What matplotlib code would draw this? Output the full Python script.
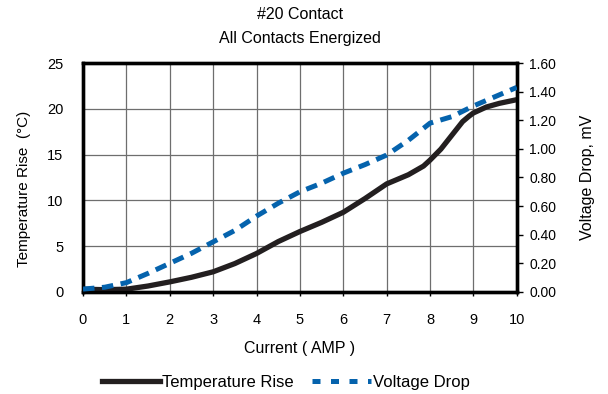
import numpy as np
import matplotlib
matplotlib.use("Agg")
import matplotlib.pyplot as plt

plt.rcParams['font.family'] = ['Liberation Sans', 'DejaVu Sans']

current = [0, 0.5, 1, 1.5, 2, 2.5, 3, 3.5, 4, 4.5, 5, 5.5, 6, 6.5, 7, 7.5, 7.85, 8,
           8.25, 8.5, 8.75, 8.9, 9, 9.3, 9.6, 10]
temp_rise = [0.3, 0.25, 0.3, 0.65, 1.1, 1.6, 2.2, 3.1, 4.2, 5.5, 6.6, 7.6, 8.7, 10.2, 11.8,
             12.8, 13.75, 14.4, 15.6, 17.1, 18.6, 19.2, 19.55, 20.2, 20.6, 21.0]
v_current = [0, 0.5, 1, 1.5, 2, 2.5, 3, 3.5, 4, 4.5, 5, 5.5, 6, 6.5, 7, 7.5, 8, 8.5, 9, 9.5, 10]
v_drop = [0.02, 0.033, 0.065, 0.13, 0.20, 0.27, 0.35, 0.43, 0.53, 0.62, 0.70, 0.76, 0.83,
          0.89, 0.957, 1.06, 1.18, 1.225, 1.30, 1.365, 1.43]

fig = plt.figure(figsize=(6.08, 3.94), dpi=100)
ax = fig.add_axes([0.1365, 0.259, 0.7135, 0.581])
ax2 = ax.twinx()

ax.plot(current, temp_rise, color="#231f20", lw=3.8, solid_capstyle="butt",
        solid_joinstyle="round", zorder=3)
ax2.plot(v_current, v_drop, color="#0563ad", lw=3.6, dashes=(2.3, 1.5), zorder=3)

ax.set_xlim(0, 10)
ax.set_ylim(0, 25)
ax2.set_ylim(0, 1.6)
ax.set_xticks(range(11))
ax.set_yticks(range(0, 26, 5))
rt = np.arange(0, 1.61, 0.2)
ax2.set_yticks(rt)
ax2.set_yticklabels([f"{v:.2f}" for v in rt])
ax.grid(True, color="#6e6e6e", lw=0.9)

for a in (ax, ax2):
    for s in a.spines.values():
        s.set_linewidth(2.4)
ax.tick_params(axis="x", length=3, width=1, pad=12, labelsize=10.5)
ax.tick_params(axis="y", length=0, pad=14, labelsize=10.5)
ax2.tick_params(axis="y", length=4, width=1, pad=5, labelsize=10)

ax.set_xlabel("Current ( AMP )", fontsize=11.5)
ax.xaxis.set_label_coords(0.5, -0.214)
ax.set_ylabel("Temperature Rise  (°C)", fontsize=11)
ax.yaxis.set_label_coords(-0.12, 0.45)
ax2.set_ylabel("Voltage Drop, mV", fontsize=11.5)
ax2.yaxis.set_label_coords(1.145, 0.5)
fig.text(0.493, 0.962, "#20 Contact", ha="center", va="center", fontsize=11.5)
fig.text(0.493, 0.903, "All Contacts Energized", ha="center", va="center", fontsize=11.5)

h1, = ax.plot([], [], color="#231f20", lw=3.8)
h2, = ax.plot([], [], color="#0563ad", lw=3.6, dashes=(1.6, 2.1))
fig.legend([h1, h2], ["Temperature Rise", "Voltage Drop"], loc="center",
           bbox_to_anchor=(0.47, 0.03), ncol=2, frameon=False, fontsize=12,
           handlelength=3.5, handletextpad=0.15, columnspacing=1.1)

fig.savefig("out.png", dpi=100)
